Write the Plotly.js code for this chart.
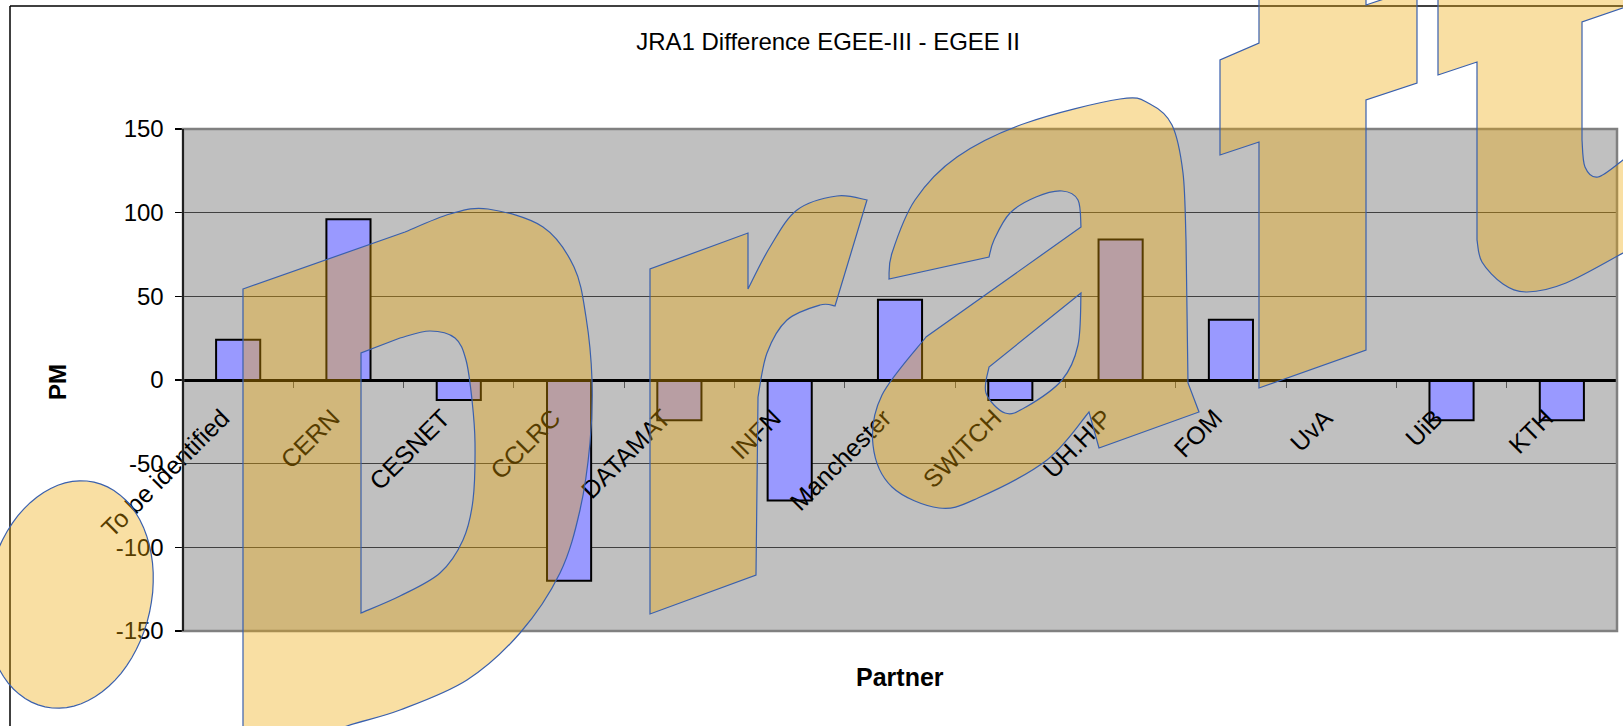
<!DOCTYPE html>
<html>
<head>
<meta charset="utf-8">
<script src="https://cdn.plot.ly/plotly-3.0.1.min.js"></script>
<style>
html,body{margin:0;padding:0;background:#fff;}
#chart{width:1623px;height:726px;}
</style>
</head>
<body>
<div id="chart"></div>
<script>
// ---- data ----
const partners = ["To be identified","CERN","CESNET","CCLRC","DATAMAT","INFN","Manchester","SWITCH","UH.HIP","FOM","UvA","UiB","KTH"];
const pmDifference = [24, 96, -12, -120, -24, -72, 48, -12, 84, 36, 0, -24, -24];
const yTickValues = [-150, -100, -50, 0, 50, 100, 150];
const yTickLabels = ["-150", "-100", "-50", "0", "50", "100", "150"];
const chartTitle = "JRA1 Difference EGEE-III - EGEE II";
const xTitle = "Partner";
const yTitle = "PM";

// ---- geometry helpers (pixel -> paper) ----
const W = 1623, H = 726;
function px(x, y) { return (x / W).toFixed(5) + ',' + (1 - y / H).toFixed(5); }
function P(str) { return str.replace(/(-?\d+(?:\.\d+)?),(-?\d+(?:\.\d+)?)/g, (m, a, b) => px(+a, +b)); }
function cr(pts) {
  let s = '';
  for (let i = 0; i < pts.length - 1; i++) {
    const p0 = pts[i - 1] || pts[i], p1 = pts[i], p2 = pts[i + 1], p3 = pts[i + 2] || p2;
    const c1 = [p1[0] + (p2[0] - p0[0]) / 6, p1[1] + (p2[1] - p0[1]) / 6];
    const c2 = [p2[0] - (p3[0] - p1[0]) / 6, p2[1] - (p3[1] - p1[1]) / 6];
    s += ` C ${c1[0]},${c1[1]} ${c2[0]},${c2[1]} ${p2[0]},${p2[1]}`;
  }
  return s;
}
function ellipse(cx, cy, a, b, thetaDeg) {
  const t = thetaDeg * Math.PI / 180;
  const u = [Math.sin(t), -Math.cos(t)], v = [Math.cos(t), Math.sin(t)];
  let s = '';
  for (let i = 0; i <= 72; i++) {
    const ang = i / 72 * 2 * Math.PI;
    const x = cx + a * Math.cos(ang) * u[0] + b * Math.sin(ang) * v[0];
    const y = cy + a * Math.cos(ang) * u[1] + b * Math.sin(ang) * v[1];
    s += (i === 0 ? 'M ' : ' L ') + x.toFixed(1) + ',' + y.toFixed(1);
  }
  return s + ' Z';
}

// ---- "draft" watermark outlines (decoration) ----
const dPath = 'M 243,289 L 405,232' +
  cr([[405,232],[450,214],[488,209],[543,227],[574,267],[586,317],[592,380],[590,443],[580,510],[560,573],[520,633],[467,680],[400,710],[347,726],[300,745]]) +
  ' L 243,765 Z ' +
  'M 361,613 L 361,353 L 400,338' +
  cr([[400,338],[430,331],[455,338],[466,360],[472,400],[475,443],[473,500],[463,540],[440,573],[400,596],[361,613]]) + ' Z';
const rPath = 'M 650,614 L 650,269 L 748,233 L 748,289' +
  cr([[748,289],[770,247],[797,210],[837,196],[867,200]]) +
  ' L 835,306' + cr([[835,306],[820,305],[787,320],[767,353],[758,397]]) +
  ' L 756,575 Z';
const aPath = 'M 889,279' +
  cr([[889,279],[892,253],[915,200],[957,157],[1026,123],[1120,99],[1150,104],[1172,125],[1183,173],[1186,240]]) +
  ' L 1188,383 L 1199,412 L 1099,448 L 1089,412' +
  cr([[1089,412],[1047,460],[978,498],[939,508],[892,487],[873,445],[882,395],[926,337]]) +
  ' L 1081,227' + cr([[1081,227],[1078,200],[1062,191],[1036,197],[1010,213],[994,240],[989,257]]) + ' Z ' +
  'M 1081,293 L 989,367' + cr([[989,367],[986,393],[1005,413],[1026,407],[1062,380],[1078,345],[1081,293]]) + ' Z';
const fPath = 'M 1259,-20 L 1259,43 L 1220,60 L 1220,155 L 1259,142 L 1259,388 L 1366,350 L 1366,100 L 1417,83 L 1417,-12 L 1366,5 L 1366,-20 Z';
const tPath = 'M 1438,-20 L 1438,75 L 1477,62 L 1477,240' +
  cr([[1477,240],[1482,262],[1503,284],[1527,292],[1566,283],[1623,253]]) +
  ' L 1660,235 L 1660,145 L 1623,160' + cr([[1623,160],[1598,177],[1585,167],[1582,140]]) +
  ' L 1582,22 L 1660,-5 L 1660,-20 Z';
const ePath = ellipse(69.5, 594.5, 115, 82, 12.3);

const wmFill = 'rgba(238,165,0,0.36)';
const wmLine = {color: '#3a60ad', width: 1.2};
const watermark = [dPath, rPath, aPath, fPath, tPath, ePath].map(p => ({
  type: 'path', xref: 'paper', yref: 'paper', path: P(p),
  fillcolor: wmFill, line: wmLine, layer: 'above', fillrule: 'evenodd'
}));

// ---- layout positions (pixels) ----
const plotL = 183, plotR = 1617, plotT = 129, plotB = 631, zeroY = 380;
const FONT = 'Liberation Sans, Arial, sans-serif';

const trace = {
  type: 'bar', x: partners, y: pmDifference,
  marker: {color: '#9999FF', line: {color: '#000000', width: 2}},
  hoverinfo: 'x+y'
};

const layout = {
  width: W, height: H,
  margin: {l: 0, r: 0, t: 0, b: 0, pad: 0},
  paper_bgcolor: '#ffffff',
  plot_bgcolor: '#C0C0C0',
  showlegend: false,
  bargap: 0.6,
  font: {family: FONT, color: '#000'},
  title: {text: chartTitle, font: {family: FONT, size: 24, color: '#000'},
          x: 828 / W, xanchor: 'center', y: 1 - 42 / H, yanchor: 'middle', xref: 'paper', yref: 'container'},
  xaxis: {
    domain: [plotL / W, plotR / W],
    anchor: 'free', position: 1 - zeroY / H,
    type: 'category', tickson: 'boundaries',
    ticks: 'outside', ticklen: 6, tickcolor: '#555', tickwidth: 1,
    tickangle: -45, tickfont: {family: FONT, size: 25, color: '#000'},
    ticklabelstandoff: 12, ticklabelshift: -16,
    showline: true, linecolor: '#000', linewidth: 1.5,
    showgrid: false, zeroline: false, automargin: false, fixedrange: true
  },
  yaxis: {
    domain: [1 - plotB / H, 1 - plotT / H],
    range: [-150, 150], tickvals: yTickValues, ticktext: yTickLabels,
    ticks: 'outside', ticklen: 7, tickcolor: '#000', tickwidth: 1.2,
    tickfont: {family: FONT, size: 24, color: '#000'},
    ticklabelstandoff: 6,
    showline: true, linecolor: '#000', linewidth: 1.5,
    showgrid: true, gridcolor: '#404040', gridwidth: 1,
    zeroline: true, zerolinecolor: '#000', zerolinewidth: 1.5,
    automargin: false, fixedrange: true
  },
  annotations: [
    {text: '<b>' + yTitle + '</b>', xref: 'paper', yref: 'paper', x: 57 / W, y: 1 - 382 / H,
     showarrow: false, textangle: -90, font: {family: FONT, size: 24, color: '#000'}, xanchor: 'center', yanchor: 'middle'},
    {text: '<b>' + xTitle + '</b>', xref: 'paper', yref: 'paper', x: 900 / W, y: 1 - 677 / H,
     showarrow: false, font: {family: FONT, size: 25, color: '#000'}, xanchor: 'center', yanchor: 'middle'}
  ],
  shapes: [
    {type: 'rect', xref: 'paper', yref: 'paper', x0: plotL / W, x1: plotR / W, y0: 1 - plotB / H, y1: 1 - plotT / H,
     line: {color: '#808080', width: 2.5}, fillcolor: 'rgba(0,0,0,0)', layer: 'above'},
    {type: 'line', xref: 'paper', yref: 'paper', x0: 10 / W, x1: 1.05, y0: 1 - 6 / H, y1: 1 - 6 / H,
     line: {color: '#000', width: 1.5}},
    {type: 'line', xref: 'paper', yref: 'paper', x0: 10 / W, x1: 10 / W, y0: 1 - 6 / H, y1: -0.05,
     line: {color: '#000', width: 1.5}},
    {type: 'line', xref: 'paper', yref: 'paper', x0: plotL / W, x1: plotL / W, y0: 1 - plotB / H, y1: 1 - plotT / H,
     line: {color: '#000', width: 1.5}, layer: 'above'}
  ].concat(watermark)
};

Plotly.newPlot('chart', [trace], layout, {displayModeBar: false, responsive: false, staticPlot: true});
</script>
</body>
</html>
